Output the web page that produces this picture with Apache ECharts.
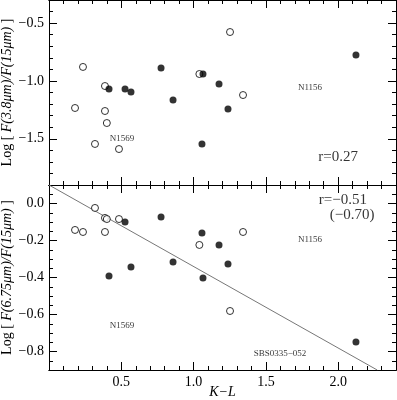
<!DOCTYPE html>
<html>
<head>
<meta charset="utf-8">
<script src="https://cdn.jsdelivr.net/npm/echarts@6/dist/echarts.min.js"></script>
<style>
html, body { margin: 0; padding: 0; background: #fff; }
#chart { width: 397px; height: 400px; }
</style>
</head>
<body>
<div id="chart"></div>
<script>
// K-L colour of each galaxy, open and filled symbols
var kOpen = [0.18, 0.235, 0.387, 0.387, 0.40, 0.318, 0.484, 1.04, 1.252, 1.342];
var logOpen38 = [-1.234, -0.879, -1.044, -1.26, -1.364, -1.545, -1.589, -0.94, -0.577, -1.122];
var logOpen675 = [-0.143, -0.154, -0.078, -0.154, -0.084, -0.024, -0.084, -0.224, -0.581, -0.154];

var kFill = [0.415, 0.526, 0.567, 0.775, 0.858, 1.065, 1.176, 1.238, 2.123, 1.058];
var logFill38 = [-1.07, -1.07, -1.096, -0.888, -1.165, -0.94, -1.026, -1.243, -0.776, -1.545];
var logFill675 = [-0.392, -0.1, -0.343, -0.073, -0.316, -0.403, -0.224, -0.327, -0.749, -0.159];

// regression line in the lower panel
var fitK = [0, 2.27];
var fitLog = [0.1, -0.9];

// tick labels
var kTicks = [0.5, 1.0, 1.5, 2.0];
var ticks38 = [-1.5, -1.0, -0.5];
var ticks675 = [-0.8, -0.6, -0.4, -0.2, 0.0];

var notesTop = [['N1569', 0.505, -1.50, 9], ['N1156', 1.805, -1.06, 9], ['r=0.27', 2.0, -1.66, 15]];
var notesBottom = [['N1569', 0.505, -0.662, 9], ['N1156', 1.805, -0.197, 9], ['SBS0335\u2212052', 1.598, -0.813, 9],
    ['r=\u22120.51', 2.033, 0.019, 15], ['(\u22120.70)', 2.096, -0.062, 15]];

var FONT = 'Liberation Serif';

function pairs(xs, ys) {
    return xs.map(function (x, i) { return [x, ys[i]]; });
}

function fmt(v) {
    return v.toFixed(1).replace('-', '\u2212');
}

// one axis: either minor ticks (interval) or major ticks (customValues)
function axis(g, pos, min, max, step, major, showLabels, extra) {
    var a = {
        type: 'value',
        gridIndex: g,
        position: pos,
        min: min,
        max: max,
        axisLine: { show: true, onZero: false, lineStyle: { color: '#000', width: 1 } },
        splitLine: { show: false },
        axisTick: { show: true, inside: true, length: 4, lineStyle: { color: '#000', width: 1 } },
        axisLabel: { show: false }
    };
    if (major) {
        a.axisTick.length = 8;
        a.axisTick.customValues = major;
        a.axisLabel = {
            show: showLabels,
            customValues: major,
            formatter: fmt,
            fontFamily: FONT,
            fontSize: 14,
            color: '#000',
            margin: 5
        };
    } else {
        a.interval = step;
    }
    for (var k in extra) a[k] = extra[k];
    return a;
}

function yName(inner) {
    return {
        name: '{n|Log [ }{i|' + inner + '}{n| ]}',
        nameLocation: 'middle',
        nameGap: 35,
        nameRotate: 90,
        nameMoveOverlap: false,
        nameTextStyle: {
            color: '#000',
            rich: {
                n: { fontFamily: FONT, fontSize: 14, color: '#000' },
                i: { fontFamily: FONT, fontSize: 14, fontStyle: 'italic', color: '#000' }
            }
        }
    };
}

var xAxes = [], yAxes = [];
[0, 1].forEach(function (g) {
    xAxes.push(axis(g, 'bottom', 0, 2.4, 0.1, null, false));
    xAxes.push(axis(g, 'bottom', 0, 2.4, 0.1, kTicks, g === 1, g === 1 ? {
        name: 'K\u2212L',
        nameLocation: 'middle',
        nameGap: 15,
        nameMoveOverlap: false,
        nameTextStyle: { fontFamily: FONT, fontSize: 14, fontStyle: 'italic', color: '#000' }
    } : {}));
    xAxes.push(axis(g, 'top', 0, 2.4, 0.1, null, false));
    xAxes.push(axis(g, 'top', 0, 2.4, 0.1, kTicks, false));
});

yAxes.push(axis(0, 'left', -1.9, -0.3, 0.1, null, false));
yAxes.push(axis(0, 'left', -1.9, -0.3, 0.1, ticks38, true, yName('F(3.8\u03bcm)/F(15\u03bcm)')));
yAxes.push(axis(0, 'right', -1.9, -0.3, 0.1, null, false));
yAxes.push(axis(0, 'right', -1.9, -0.3, 0.1, ticks38, false));
yAxes.push(axis(1, 'left', -0.9, 0.1, 0.05, null, false));
yAxes.push(axis(1, 'left', -0.9, 0.1, 0.05, ticks675, true, yName('F(6.75\u03bcm)/F(15\u03bcm)')));
yAxes.push(axis(1, 'right', -0.9, 0.1, 0.05, null, false));
yAxes.push(axis(1, 'right', -0.9, 0.1, 0.05, ticks675, false));

function points(g, xs, ys, filled) {
    return {
        type: 'scatter',
        xAxisIndex: g * 4,
        yAxisIndex: g * 4,
        symbol: 'circle',
        symbolSize: 7,
        itemStyle: filled ? { color: '#000' } : { color: '#fff', borderColor: '#000', borderWidth: 1 },
        emphasis: { disabled: true },
        z: 5,
        data: pairs(xs, ys)
    };
}

function notes(g, list) {
    return {
        type: 'scatter',
        xAxisIndex: g * 4,
        yAxisIndex: g * 4,
        symbolSize: 1,
        itemStyle: { color: 'rgba(0,0,0,0)' },
        silent: true,
        data: list.map(function (n) {
            return {
                value: [n[1], n[2]],
                label: {
                    show: true,
                    position: 'inside',
                    formatter: n[0],
                    fontFamily: FONT,
                    fontSize: n[3],
                    color: '#000'
                }
            };
        })
    };
}

var myChart = echarts.init(document.getElementById('chart'));

option = {
    animation: false,
    backgroundColor: '#fff',
    grid: [
        { left: 49, top: 0, width: 347, height: 185, containLabel: false, outerBoundsMode: 'none' },
        { left: 49, top: 185, width: 347, height: 185, containLabel: false, outerBoundsMode: 'none' }
    ],
    xAxis: xAxes,
    yAxis: yAxes,
    series: [
        points(0, kOpen, logOpen38, false),
        points(0, kFill, logFill38, true),
        points(1, kOpen, logOpen675, false),
        points(1, kFill, logFill675, true),
        {
            type: 'line',
            xAxisIndex: 4,
            yAxisIndex: 4,
            showSymbol: false,
            lineStyle: { color: '#777', width: 1 },
            z: 3,
            data: pairs(fitK, fitLog)
        },
        notes(0, notesTop),
        notes(1, notesBottom)
    ]
};

myChart.setOption(option);
</script>
</body>
</html>
